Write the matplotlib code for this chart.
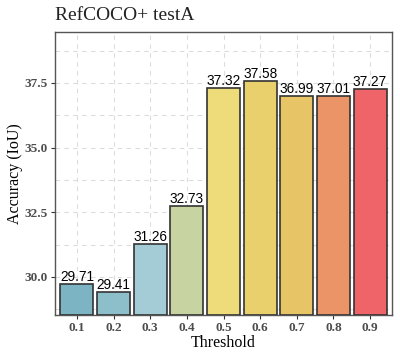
import matplotlib
matplotlib.use("Agg")
import matplotlib.pyplot as plt
import numpy as np

thresholds = ["0.1", "0.2", "0.3", "0.4", "0.5", "0.6", "0.7", "0.8", "0.9"]
accuracy = [29.71, 29.41, 31.26, 32.73, 37.32, 37.58, 36.99, 37.01, 37.27]
colors = ["#7db4c3", "#8dbfcb", "#a4ccd6", "#c7d4a1", "#eedc7b", "#ead06d",
          "#e7c466", "#eb9467", "#ef6468"]
yticks = [30.0, 32.5, 35.0, 37.5]

fig = plt.figure(figsize=(4.0, 3.59), dpi=100)
ax = fig.add_axes([55/400, 1-315/359, (392-55)/400, (315-32)/359])

x = np.arange(len(thresholds))
ymin, ymax = 28.53, 39.47
ax.bar(x, np.array(accuracy) - ymin, bottom=ymin, width=0.9, color=colors,
       edgecolor="#333333", linewidth=1.2, zorder=3)
for xi, v in zip(x, accuracy):
    ax.text(xi, v + 0.0, f"{v:.2f}", ha="center", va="bottom",
            fontsize=9.8, family="Liberation Sans", color="black", zorder=4)

ax.set_xlim(-0.6, len(thresholds) - 0.4)
ax.set_ylim(ymin, ymax)
ax.set_xticks(x)
ax.set_xticklabels(thresholds)
ax.set_yticks(yticks)
ax.set_yticklabels([f"{t:.1f}" for t in yticks])
ax.set_yticks([28.75, 31.25, 33.75, 36.25, 38.75], minor=True)
ax.tick_params(axis="y", which="minor", length=0)

ax.grid(True, which="both", axis="y", linestyle=(0, (4, 4)), color="#dcdcdc", linewidth=0.8, zorder=0)
ax.grid(True, which="major", axis="x", linestyle=(0, (4, 4)), color="#dcdcdc", linewidth=0.8, zorder=0)

for lab in ax.get_xticklabels() + ax.get_yticklabels():
    lab.set_family("Liberation Serif")
    lab.set_fontweight("bold")
    lab.set_fontsize(9.5)
    lab.set_color("#4d4d4d")
ax.tick_params(axis="both", which="major", length=3, width=0.8, color="#333333", pad=2)

for s in ax.spines.values():
    s.set_color("#555555")
    s.set_linewidth(1.0)

ax.set_xlabel("Threshold", family="Liberation Serif", fontsize=11.5, labelpad=1)
ax.set_ylabel("Accuracy (IoU)", family="Liberation Serif", fontsize=11.5, labelpad=1)
fig.text(55/400, 1-15/359, "RefCOCO+ testA", family="Liberation Serif", fontsize=14,
         ha="left", va="center", color="#222222")

fig.savefig("out.png", dpi=100)
